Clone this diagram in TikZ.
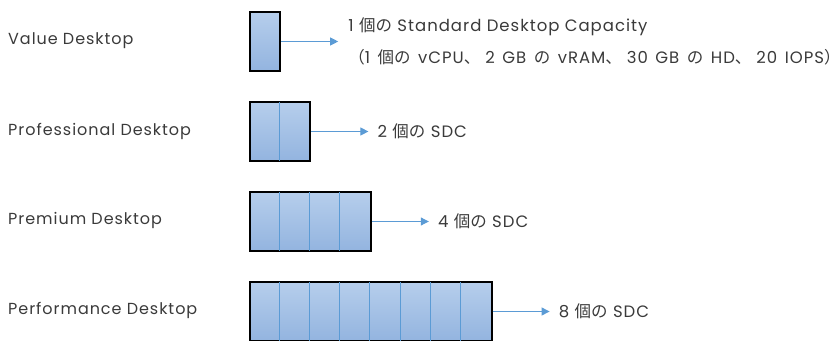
\documentclass[tikz,border=0pt]{standalone}
\usepackage{fontspec}
\setmainfont[LetterSpace=6]{Poppins}
\newfontfamily\cjk{Noto Sans CJK JP}
\usetikzlibrary{positioning,arrows.meta}
\definecolor{textgray}{HTML}{3A3A3A}
\definecolor{celltop}{HTML}{B6CEEC}
\definecolor{cellbot}{HTML}{93B4DF}
\definecolor{lineblue}{HTML}{5B9BD5}
\newcommand{\jp}[1]{{\cjk #1}}
\newcommand{\jpcomma}{\jp{、}\hspace{5pt}}

\begin{document}
\begin{tikzpicture}[x=1pt,y=-1pt,every node/.style={font=\fontsize{16}{32}\selectfont,text=textgray}]
\tikzset{tier/.style={draw=black,line width=2pt,top color=celltop,bottom color=cellbot,
    minimum height=59pt,inner sep=0pt,anchor=north west},
  divider/.style={draw=lineblue,line width=0.8pt,shorten <=1pt,shorten >=1pt},
  flow/.style={draw=lineblue,line width=1pt,-{Triangle[length=8pt,width=8pt]}},
  tiername/.style={anchor=west,inner sep=0pt},
  sdc/.style={anchor=west,inner sep=0pt,align=left,font=\fontsize{16.5}{32}\selectfont}}
\useasboundingbox (0,0) rectangle (840,340);

% ---------- tiers ----------
\node[tier,minimum width=30.2pt] (V) at (249,11) {};
\node[tier,minimum width=60.4pt] (Pro) at (249,101) {};
\node[tier,minimum width=120.8pt] (Pre) at (249,191) {};
\node[tier,minimum width=241.6pt] (Per) at (249,281) {};

\draw[divider] ([xshift=30.2pt]Pro.north west) -- ([xshift=30.2pt]Pro.south west);
\foreach \i in {1,...,3}
  \draw[divider] ([xshift=\i*30.2pt]Pre.north west) -- ([xshift=\i*30.2pt]Pre.south west);
\foreach \i in {1,...,7}
  \draw[divider] ([xshift=\i*30.2pt]Per.north west) -- ([xshift=\i*30.2pt]Per.south west);

% ---------- names ----------
\node[tiername] (nV) at (8,41) {Value Desktop};
\node[tiername] (nPro) at (8,131) {Professional Desktop};
\node[tiername] (nPre) at (8,220) {Premium Desktop};
\node[tiername] (nPer) at (8,310) {Performance Desktop};

% ---------- capacities ----------
\coordinate[right=57pt of V.east] (aV);
\coordinate[right=57pt of Pro.east] (aPro);
\coordinate[right=57pt of Pre.east] (aPre);
\coordinate[right=57pt of Per.east] (aPer);

\node[sdc,right=10pt of aV] (cV) {1 \jp{個の} Standard Desktop Capacity\\
  {\spaceskip=7.5pt\relax\jp{（}1 \jp{個の} vCPU\jpcomma 2 GB \jp{の} vRAM\jpcomma 30 GB \jp{の} HD\jpcomma 20 IOPS\jp{）}}};
\node[sdc,right=9pt of aPro] (cPro) {2 \jp{個の} SDC};
\node[sdc,right=9pt of aPre] (cPre) {4 \jp{個の} SDC};
\node[sdc,right=9pt of aPer] (cPer) {8 \jp{個の} SDC};

\draw[flow] (V.east) -- (aV);
\draw[flow] (Pro.east) -- (aPro);
\draw[flow] (Pre.east) -- (aPre);
\draw[flow] (Per.east) -- (aPer);

\end{tikzpicture}
\end{document}
